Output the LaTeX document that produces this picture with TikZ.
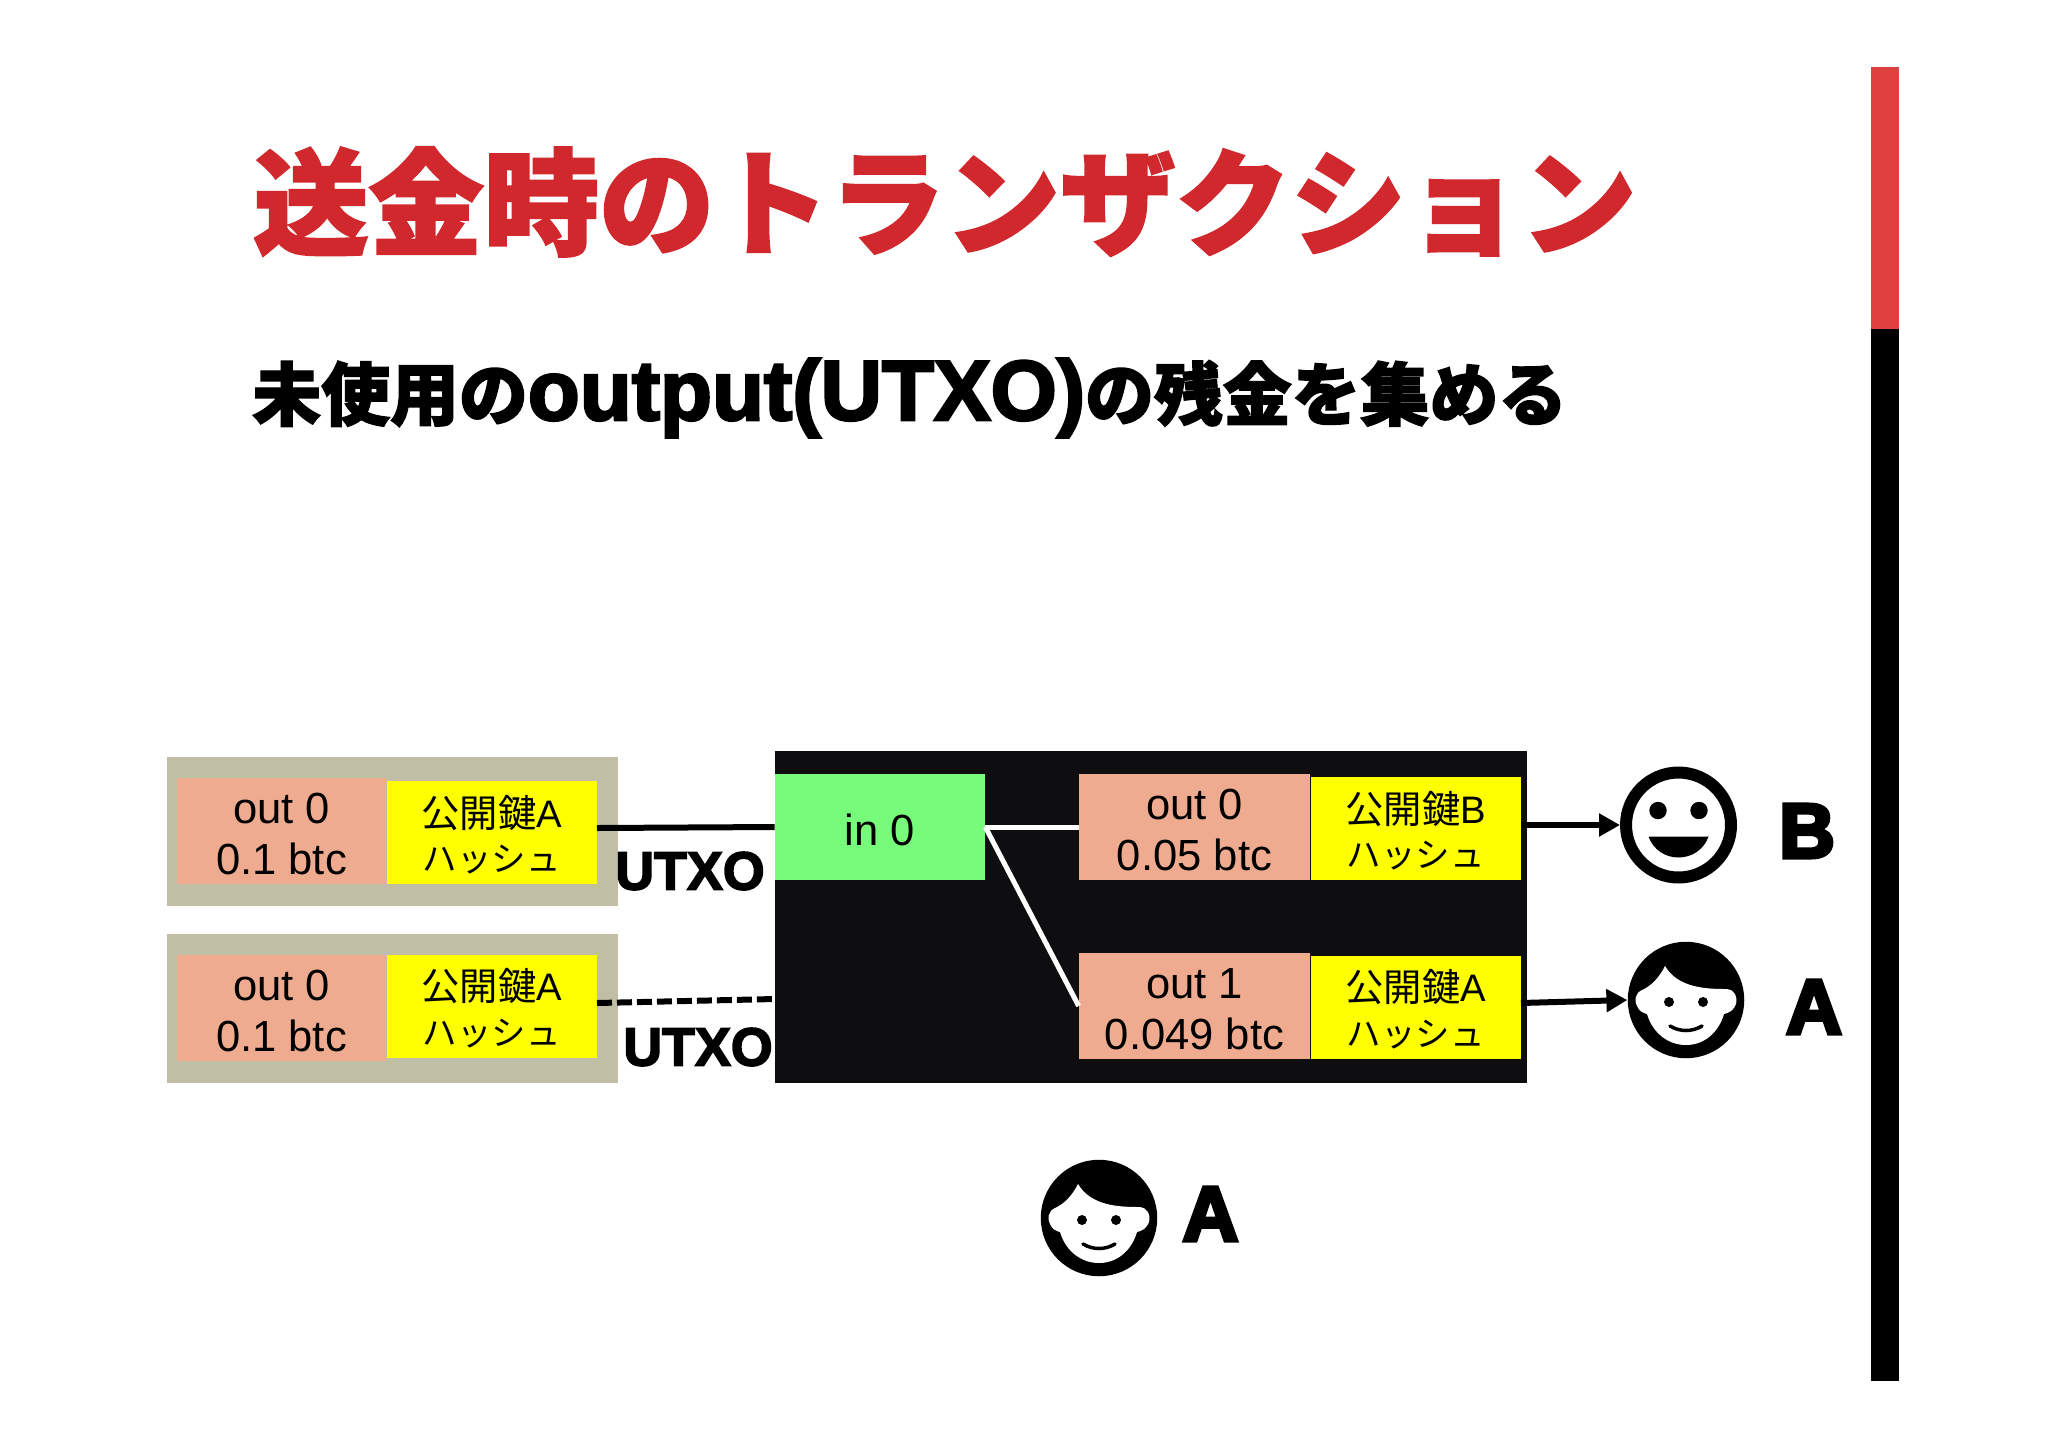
\documentclass[tikz,border=0pt]{standalone}
\usepackage{fontspec}
\usepackage{xcolor}
\usetikzlibrary{arrows.meta,positioning}
\setmainfont{Liberation Sans}
\newfontfamily\cjkbody{Noto Sans CJK JP}
\newfontfamily\cjkheavy{Noto Sans CJK JP Black}[FakeBold=2]
\newfontfamily\heavysans{Liberation Sans}[UprightFont=* Bold,FakeBold=3]
\newfontfamily\blacksans{Liberation Sans}[UprightFont=* Bold,FakeBold=5]
\newcommand{\keytext}[1]{\rule{0pt}{20.7pt}{\cjkbody 公開鍵}#1\\{\cjkbody\fontsize{19.6}{25.2}\selectfont ハッシュ}}
\newcommand{\amounttext}[2]{\rule{0pt}{20.9pt}#1\\#2}
\definecolor{titlered}{HTML}{D1282E}
\definecolor{barred}{HTML}{DF4040}
\definecolor{salmon}{HTML}{EFAB90}
\definecolor{keyyellow}{HTML}{FFFF00}
\definecolor{ingreen}{HTML}{76FB7B}
\definecolor{oldgray}{HTML}{C0BFA5}
\definecolor{txblack}{HTML}{0E0E10}

\begin{document}
\begin{tikzpicture}[
    x=0.02cm, y=-0.02cm,
    oldbox/.style={rectangle, fill=oldgray, minimum width=9.02cm, minimum height=2.98cm, inner sep=0pt},
    txbox/.style={rectangle, fill=txblack, minimum width=15.04cm, minimum height=6.64cm, inner sep=0pt},
    amount/.style={rectangle, fill=salmon, minimum height=2.12cm, inner sep=0pt, align=center, font=\fontsize{24.8}{29.4}\selectfont},
    keycell/.style={rectangle, fill=keyyellow, minimum width=4.2cm, minimum height=2.06cm, inner sep=0pt, align=center, font=\fontsize{21.8}{25.2}\selectfont},
    incell/.style={rectangle, fill=ingreen, minimum width=4.2cm, minimum height=2.12cm, inner sep=0pt, font=\fontsize{24.8}{29.4}\selectfont, execute at begin node={\rule{0pt}{0.87em}}},
    tag/.style={inner sep=0pt, font=\heavysans\fontsize{30.6}{31}\selectfont},
    who/.style={inner sep=0pt, font=\blacksans\fontsize{44}{45}\selectfont},
    wire/.style={line width=0.12cm},
    whitewire/.style={line width=0.1cm, white},
    arrow/.style={-{Triangle[length=0.42cm,width=0.44cm]}, line width=0.12cm},
    ringface/.style={circle, draw=black, line width=0.24cm, fill=white, minimum size=2.1cm, inner sep=0pt},
    hairface/.style={circle, fill=black, minimum size=2.33cm, inner sep=0pt},
    smile/.pic={
        \fill (-20.5,-14.5) circle (8.7);
        \fill (20.5,-14.5) circle (8.7);
        \fill (-30,11.7) -- (30,11.7) .. controls (25,25) and (13,32.5) .. (0,32.5) .. controls (-13,32.5) and (-25,25) .. cycle;
    },
    kid/.pic={
        \fill[white] (-21,-34) .. controls (-27,-22) and (-35,-14) .. (-44,-10)
            .. controls (-51,-7) and (-52,1) .. (-49,6) .. controls (-47,11) and (-43,13) .. (-39,14)
            .. controls (-33,34) and (-17,45) .. (0,45) .. controls (17,45) and (32,34) .. (38,14)
            .. controls (43,13) and (48,10) .. (50,4) .. controls (52,-4) and (47,-11) .. (41,-11)
            .. controls (20,-11) and (-8,-12) .. cycle;
        \fill (-17,2) circle (5);
        \fill (17,2) circle (5);
        \draw[line width=0.07cm, line cap=round] (-16,26) .. controls (-6,32) and (6,32) .. (16,26);
    }
]
    \useasboundingbox (0,0) rectangle (2048,1447);

    % Heading
    \node[anchor=base west, inner sep=0pt, text=titlered, font=\cjkheavy\fontsize{65.6}{66}\selectfont] (headline) at (253,246) {送金時のトランザクション};
    \node[anchor=base west, inner sep=0pt, font=\fontsize{39.2}{40}\selectfont] (subline) at (252,420) {\cjkheavy 未使用の{\heavysans\fontsize{48.4}{49}\selectfont output(UTXO)}の残金を集める};

    % Side bar
    \fill[barred] (1871,67) rectangle (1899,329);
    \fill[black] (1871,329) rectangle (1899,1381);

    % Previous outputs
    \node[oldbox] (olda) at (392.5,831.5) {};
    \node[oldbox] (oldb) at (392.5,1008.5) {};
    \node[amount, minimum width=4.18cm] (outa) at (281.5,831) {\amounttext{out 0}{0.1 btc}};
    \node[keycell, right=0pt of outa, yshift=-0.03cm] (keya) {\keytext{A}};
    \node[amount, minimum width=4.18cm] (outb) at (281.5,1008) {\amounttext{out 0}{0.1 btc}};
    \node[keycell, right=0pt of outb, yshift=0.04cm] (keyb) {\keytext{A}};

    % Transaction
    \node[txbox] (tx) at (1151,917) {};
    \node[incell] (ina) at (880,827) {in 0};
    \node[amount, minimum width=4.62cm] (outc) at (1194.5,827) {\amounttext{out 0}{0.05 btc}};
    \node[keycell, right=0pt of outc, yshift=-0.03cm] (keyc) {\keytext{B}};
    \node[amount, minimum width=4.62cm] (outd) at (1194.5,1006) {\amounttext{out 1}{0.049 btc}};
    \node[keycell, right=0pt of outd, yshift=-0.02cm] (keyd) {\keytext{A}};

    % UTXO labels
    \node[tag] (utxoa) at (690,871) {UTXO};
    \node[tag] (utxob) at (698,1047) {UTXO};

    % People
    \node[ringface] (faceb) at (1678.5,825) {};
    \pic at (faceb) {smile};
    \node[hairface] (facea) at (1686,1000) {};
    \pic at (facea) {kid};
    \node[hairface] (sender) at (1099,1218) {};
    \pic at (sender) {kid};
    \node[who] (nameb) at (1807,831) {B};
    \node[who] (namea) at (1814,1007) {A};
    \node[who] (namesender) at (1210.5,1214) {A};

    % Arrows
    \coordinate (dashend) at (775,999);
    \draw[wire] ([yshift=0.09cm]keya.east) -- (ina.west);
    \draw[wire, dash pattern=on 0.3cm off 0.1cm] ([yshift=0.06cm]keyb.east) -- (dashend);
    \draw[whitewire] (ina.east) -- (outc.west);
    \draw[whitewire] (ina.east) -- (outd.west);
    \draw[arrow] (keyc.east |- faceb.west) -- (faceb.west);
    \draw[arrow] ([yshift=0.08cm]keyd.east) -- (facea.west);
\end{tikzpicture}
\end{document}
